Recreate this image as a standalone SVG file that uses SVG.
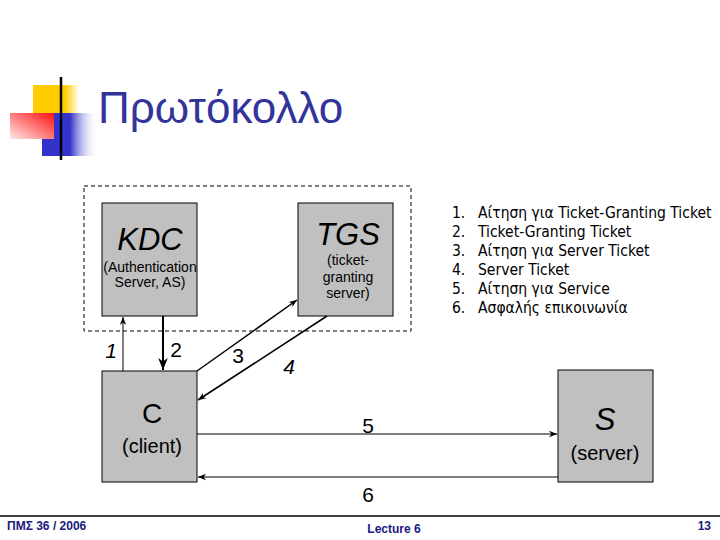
<svg xmlns="http://www.w3.org/2000/svg" width="720" height="540" viewBox="0 0 720 540">
<defs>
<linearGradient id="gy" x1="0" y1="0" x2="1" y2="0"><stop offset="0" stop-color="#ffcc00"/><stop offset="0.7" stop-color="#ffcc00"/><stop offset="1" stop-color="#ffffff"/></linearGradient>
<linearGradient id="gb" x1="0" y1="0" x2="1" y2="0"><stop offset="0" stop-color="#3333cc"/><stop offset="0.5" stop-color="#3333cc"/><stop offset="1" stop-color="#ffffff" stop-opacity="0"/></linearGradient>
<linearGradient id="gr" x1="0" y1="1" x2="1" y2="0"><stop offset="0" stop-color="#ffe8e8"/><stop offset="1" stop-color="#ff1010"/></linearGradient>
<linearGradient id="gl" x1="0" y1="0" x2="1" y2="0"><stop offset="0" stop-color="#000000"/><stop offset="1" stop-color="#d0d0d0"/></linearGradient>
<marker id="ah" viewBox="0 0 10 10" refX="10" refY="5" markerWidth="8" markerHeight="8" markerUnits="userSpaceOnUse" orient="auto"><path d="M0,1 L10,5 L0,9 L3,5 Z" fill="#000"/></marker>
<marker id="ahb" viewBox="0 0 10 10" refX="10" refY="5" markerWidth="6" markerHeight="6" orient="auto"><path d="M0,1 L10,5 L0,9 L3,5 Z" fill="#000"/></marker>
</defs>
<style>
.box{fill:#c0c0c0;stroke:#000;stroke-width:1}
.big{font-family:"Liberation Sans",Arial,sans-serif;font-size:28px;fill:#000;text-anchor:middle}
.big.it{font-size:31px}
.it{font-style:italic}
.sm{font-family:"Liberation Sans",Arial,sans-serif;font-size:14px;fill:#000;text-anchor:middle}
.md{font-family:"Liberation Sans",Arial,sans-serif;font-size:20px;fill:#000;text-anchor:middle}
.lbl{font-family:"Liberation Sans",Arial,sans-serif;font-size:21px;fill:#000;text-anchor:middle}
.li{font-family:"DejaVu Sans Condensed","Liberation Sans",sans-serif;font-size:15.5px;fill:#000}
.ft{font-family:"Liberation Sans Narrow","Liberation Sans",Arial,sans-serif;font-size:12px;font-weight:bold;fill:#1a1a80}
.ln{stroke:#000;fill:none}
</style>
<rect width="720" height="540" fill="#fff"/>
<g id="logo">
<rect x="33" y="85" width="46" height="40" fill="url(#gy)"/>
<rect x="42" y="113" width="56" height="43" fill="url(#gb)"/>
<rect x="10" y="113" width="44" height="26" fill="url(#gr)"/>
<line x1="35" y1="141" x2="720" y2="141" stroke="url(#gl)" stroke-width="3"/>
<line x1="61" y1="77" x2="61" y2="160" stroke="#000" stroke-width="2.5"/>
</g>
<text x="98" y="123" font-family="Liberation Sans,Arial,sans-serif" font-size="44" fill="#333399">Πρωτόκολλο</text>
<rect x="84" y="186" width="327" height="145" fill="none" stroke="#000" stroke-width="1" stroke-dasharray="4,3"/>
<g id="kdc">
<rect class="box" x="102" y="203" width="95" height="113"/>
<text class="big it" x="150" y="250">KDC</text>
<text class="sm" x="150" y="272">(Authentication</text>
<text class="sm" x="150" y="287">Server, AS)</text>
</g>
<g id="tgs">
<rect class="box" x="298" y="203" width="95" height="113"/>
<text class="big it" x="348" y="245">TGS</text>
<text class="sm" x="348" y="265">(ticket-</text>
<text class="sm" x="348" y="282">granting</text>
<text class="sm" x="348" y="298">server)</text>
</g>
<g id="client">
<rect class="box" x="102" y="371" width="95" height="111"/>
<text class="big" x="152" y="423">C</text>
<text class="md" x="152" y="453">(client)</text>
</g>
<g id="server">
<rect class="box" x="558" y="370" width="95" height="112"/>
<text class="big it" x="605" y="430">S</text>
<text class="md" x="605" y="460">(server)</text>
</g>
<g id="connectors">
<line class="ln" x1="123" y1="371" x2="123" y2="317" stroke-width="1" marker-end="url(#ah)"/>
<line class="ln" x1="163" y1="316" x2="163" y2="370" stroke-width="2" marker-end="url(#ahb)"/>
<line class="ln" x1="197" y1="371" x2="297" y2="300" stroke-width="1.5" marker-end="url(#ah)"/>
<line class="ln" x1="327" y1="316" x2="198" y2="400" stroke-width="1.5" marker-end="url(#ah)"/>
<line class="ln" x1="197" y1="434" x2="557" y2="434" stroke-width="1" marker-end="url(#ah)"/>
<line class="ln" x1="558" y1="477" x2="198" y2="477" stroke-width="1" marker-end="url(#ah)"/>
<text class="lbl it" x="111" y="358">1</text>
<text class="lbl" x="176" y="357">2</text>
<text class="lbl" x="238" y="363">3</text>
<text class="lbl it" x="289" y="374">4</text>
<text class="lbl" x="368" y="433">5</text>
<text class="lbl" x="368" y="502">6</text>
</g>
<g id="list">
<text class="li" x="452" y="218">1.</text><text class="li" x="478" y="218">Αίτηση για Ticket-Granting Ticket</text>
<text class="li" x="452" y="237">2.</text><text class="li" x="478" y="237">Ticket-Granting Ticket</text>
<text class="li" x="452" y="256">3.</text><text class="li" x="478" y="256">Αίτηση για Server Ticket</text>
<text class="li" x="452" y="275">4.</text><text class="li" x="478" y="275">Server Ticket</text>
<text class="li" x="452" y="294">5.</text><text class="li" x="478" y="294">Αίτηση για Service</text>
<text class="li" x="452" y="313">6.</text><text class="li" x="478" y="313">Ασφαλής επικοινωνία</text>
</g>
<g id="footer">
<line x1="0" y1="516" x2="720" y2="516" stroke="#000" stroke-width="1.5"/>
<text class="ft" x="7" y="530">ΠΜΣ 36 / 2006</text>
<text class="ft" x="394" y="533" text-anchor="middle">Lecture 6</text>
<text class="ft" x="711" y="530" text-anchor="end">13</text>
</g>
</svg>
